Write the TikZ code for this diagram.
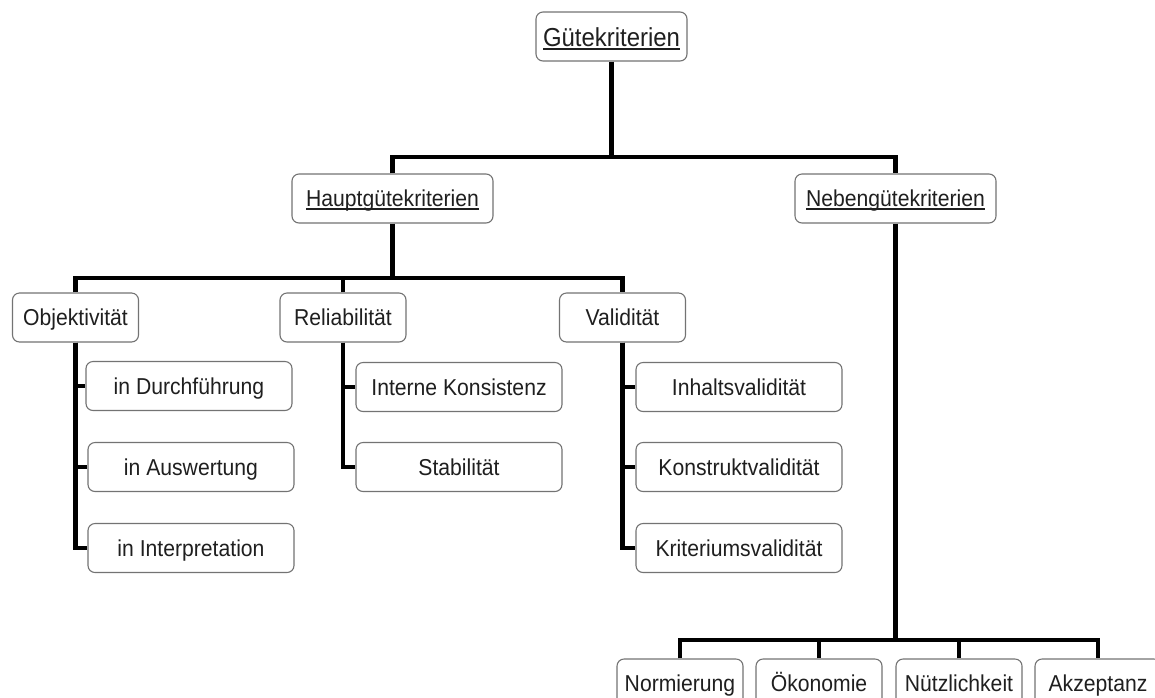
\documentclass[tikz,border=0pt]{standalone}
\usepackage{fontspec}
\setmainfont[FakeStretch=0.92]{Liberation Sans}
\newcommand{\ulText}[1]{\setbox0\hbox{#1}\rlap{\rule[-3pt]{\wd0}{1.3pt}}\box0}
\tikzset{
  box/.style={draw=black!55, line width=1.1pt, rounded corners=7pt, fill=white,
    text=black!88, inner sep=0pt, minimum height=49pt, text height=17pt, text depth=1pt,
    font=\fontsize{23}{27}\selectfont},
  hbox/.style={box, minimum width=201pt},
  cbox/.style={box, minimum width=126pt},
  sbox/.style={box, minimum width=206pt},
  conn/.style={line width=4.5pt, line join=miter}
}

\begin{document}
\begin{tikzpicture}[x=1pt,y=-1pt]
\useasboundingbox (0,0) rectangle (1155,697);

            \node[box, minimum width=151pt, text height=20pt, text depth=0pt, font=\fontsize{26}{30}\selectfont] (guete) at (611.5,36.5) {\ulText{Gütekriterien}};
            \node[hbox] (haupt) at (392.5,198.5) {\ulText{Hauptgütekriterien}};
            \node[hbox] (neben) at (895.5,198.5) {\ulText{Nebengütekriterien}};
             %Hauptgütekriterien
                 \node[cbox] (obj) at (75.5,317.5) {Objektivität};
                 \node[cbox] (rel) at (343,317.5) {Reliabilität};
                 \node[cbox] (val) at (622.5,317.5) {Validität};
                 \node[sbox] (durch) at (189,386) {in Durchführung};
                 \node[sbox] (ausw) at (191,467) {in Auswertung};
                 \node[sbox] (interp) at (191,548) {in Interpretation};
                 \node[sbox] (konsist) at (459,387) {Interne Konsistenz};
                 \node[sbox] (stab) at (459,467) {Stabilität};
                 \node[sbox] (inhalt) at (739,387) {Inhaltsvalidität};
                 \node[sbox] (konstrukt) at (739,467) {Konstruktvalidität};
                 \node[sbox] (krit) at (739,548) {Kriteriumsvalidität};
             %Nebengütekriterien
                 \node[cbox] (norm) at (680,683.5) {Normierung};
                 \node[cbox] (oeko) at (819,683.5) {Ökonomie};
                 \node[cbox] (nuetz) at (959,683.5) {Nützlichkeit};
                 \node[cbox] (akz) at (1098,683.5) {Akzeptanz};

             %lines
            \coordinate (j1) at (611.5,157);
            \coordinate (j2) at (392.5,278);
            \coordinate (j3) at (895.5,640);
            \draw[conn] (guete.south) -- (j1);
            \draw[conn] (haupt.north) |- (j1) -| (neben.north);
            \draw[conn] (haupt.south) -- (j2);
            \draw[conn] (obj.north) |- (j2) -| (val.north);
            \draw[conn] (rel.north) -- (rel.north |- j2);
                 \foreach \c in {durch,ausw,interp}
                     \draw[conn] (obj.south) |- (\c.west);
                 \foreach \c in {konsist,stab}
                     \draw[conn] (rel.south) |- (\c.west);
                 \foreach \c in {inhalt,konstrukt,krit}
                     \draw[conn] (val.south) |- (\c.west);
            \draw[conn] (neben.south) -- (j3);
            \draw[conn] (norm.north) |- (j3) -| (akz.north);
                 \foreach \c in {oeko,nuetz}
                     \draw[conn] (\c.north) -- (\c.north |- j3);
\end{tikzpicture}
\end{document}
